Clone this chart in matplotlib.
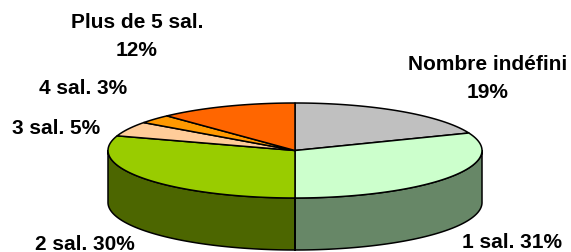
'''
    Repartition par nombre de salaries - camembert 3D
'''
import numpy as np
import matplotlib
matplotlib.use('Agg')
import matplotlib.pyplot as plt
from matplotlib.patches import Polygon

# donnees
categories = ['Nombre indéfini', '1 sal.', '2 sal.', '3 sal.', '4 sal.', 'Plus de 5 sal.']
shares = [19, 31, 30, 5, 3, 12]
label_texts = ['Nombre indéfini\n19%', '1 sal. 31%', '2 sal. 30%',
               '3 sal. 5%', '4 sal. 3%', 'Plus de 5 sal.\n12%']
top_colors = ['#C0C0C0', '#CCFFCC', '#99CC00', '#FFCC99', '#FF9900', '#FF6600']
side_colors = ['#8A8A8A', '#678767', '#4C6600', '#B38F6B', '#B36B00', '#B34700']

# mise en page (pixels)
CX, CY = 295, 150.5
RX, RY = 187, 47.5
DEPTH = 52
label_pos = [(488, 78), (512, 243), (85, 245), (56, 128), (83, 89), (137, 36)]


def ellipse_pts(a0, a1, dy=0, n=120):
    '''points sur l'ellipse entre deux angles (degres, sens math)'''
    t = np.radians(np.linspace(a0, a1, n))
    return np.column_stack([CX + RX * np.cos(t), CY - RY * np.sin(t) + dy])


def draw_pie(ax):
    '''dessine le camembert'''
    fracs = np.array(shares, dtype=float) / sum(shares)
    bounds = np.concatenate([[0], np.cumsum(fracs)])
    starts = 90 - 360 * bounds[:-1]
    ends = 90 - 360 * bounds[1:]

    # faces laterales (partie avant : angles entre -180 et 0)
    for a0, a1, col in zip(starts, ends, side_colors):
        lo, hi = max(a1, -180), min(a0, 0)
        if lo >= hi:
            continue
        top = ellipse_pts(hi, lo)
        bot = ellipse_pts(lo, hi, dy=DEPTH)
        ax.add_patch(Polygon(np.vstack([top, bot]), closed=True, facecolor=col,
                             edgecolor='black', lw=1.1, joinstyle='round'))
        for a in (lo, hi):
            if -180 < a < 0:
                p = ellipse_pts(a, a, n=1)[0]
                ax.plot([p[0], p[0]], [p[1], p[1] + DEPTH], color='black', lw=1.1)

    # face du dessus
    for a0, a1, col in zip(starts, ends, top_colors):
        arc = ellipse_pts(a0, a1)
        pts = np.vstack([[CX, CY], arc])
        ax.add_patch(Polygon(pts, closed=True, facecolor=col, edgecolor='black',
                             lw=1.1, joinstyle='round'))


def draw_labels(ax):
    '''etiquettes des parts'''
    for txt, (x, y) in zip(label_texts, label_pos):
        ax.text(x, y, txt, ha='center', va='center', fontsize=15,
                fontweight='bold', family=['Liberation Sans', 'DejaVu Sans'],
                linespacing=1.6)


def execute():
    '''execution'''
    fig = plt.figure(figsize=(5.71, 2.52), dpi=100)
    ax = fig.add_axes([0, 0, 1, 1])
    ax.set_xlim(0, 571)
    ax.set_ylim(252, 0)
    ax.axis('off')
    draw_pie(ax)
    draw_labels(ax)
    fig.savefig('out.png', dpi=100, facecolor='white')


execute()
